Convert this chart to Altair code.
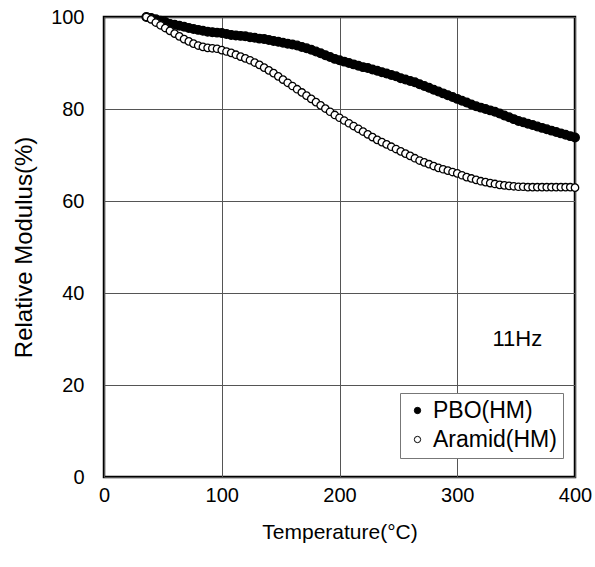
import altair as alt
import pandas as pd

temps = [36, 40, 44, 48, 52, 56, 60, 64, 68, 72,
         76, 80, 84, 88, 92, 96, 100, 104, 108, 112,
         116, 120, 124, 128, 132, 136, 140, 144, 148, 152,
         156, 160, 164, 168, 172, 176, 180, 184, 188, 192,
         196, 200, 204, 208, 212, 216, 220, 224, 228, 232,
         236, 240, 244, 248, 252, 256, 260, 264, 268, 272,
         276, 280, 284, 288, 292, 296, 300, 304, 308, 312,
         316, 320, 324, 328, 332, 336, 340, 344, 348, 352,
         356, 360, 364, 368, 372, 376, 380, 384, 388, 392,
         396, 400]

pbo = [100.0, 99.8, 99.5, 99.2, 98.9, 98.5, 98.3, 98.1, 97.9, 97.6,
       97.4, 97.2, 97.0, 96.8, 96.7, 96.6, 96.5, 96.3, 96.1, 96.0,
       95.9, 95.8, 95.6, 95.5, 95.3, 95.2, 95.0, 94.8, 94.6, 94.4,
       94.2, 94.0, 93.8, 93.5, 93.2, 92.9, 92.5, 92.1, 91.7, 91.3,
       90.9, 90.6, 90.3, 90.0, 89.7, 89.4, 89.1, 88.9, 88.6, 88.3,
       88.0, 87.7, 87.4, 87.1, 86.7, 86.4, 86.1, 85.8, 85.4, 85.0,
       84.6, 84.2, 83.8, 83.4, 83.0, 82.6, 82.2, 81.8, 81.4, 81.0,
       80.6, 80.3, 80.0, 79.7, 79.4, 79.0, 78.6, 78.2, 77.8, 77.4,
       77.1, 76.8, 76.5, 76.2, 75.9, 75.6, 75.3, 75.0, 74.7, 74.4,
       74.1, 73.8]

aramid = [100.0, 99.5, 98.8, 98.2, 97.6, 97.0, 96.4, 95.8, 95.2, 94.7,
          94.2, 93.8, 93.5, 93.3, 93.2, 93.1, 92.8, 92.5, 92.2, 91.8,
          91.4, 91.0, 90.6, 90.1, 89.6, 89.0, 88.4, 87.8, 87.1, 86.4,
          85.7, 85.0, 84.3, 83.6, 82.9, 82.2, 81.5, 80.8, 80.1, 79.4,
          78.7, 78.1, 77.5, 76.9, 76.3, 75.7, 75.1, 74.5, 73.9, 73.3,
          72.8, 72.3, 71.8, 71.3, 70.8, 70.3, 69.8, 69.3, 68.8, 68.4,
          68.0, 67.6, 67.2, 66.9, 66.6, 66.3, 66.0, 65.6, 65.2, 64.9,
          64.6, 64.3, 64.1, 63.9, 63.7, 63.5, 63.4, 63.3, 63.2, 63.1,
          63.1, 63.0, 63.0, 63.0, 63.0, 63.0, 63.0, 63.0, 63.0, 63.0,
          63.0, 62.9]

series_names = ["PBO(HM)", "Aramid(HM)"]
x_ticks = [0, 100, 200, 300, 400]
y_ticks = [0, 20, 40, 60, 80, 100]
note_text = ["11Hz"]
note_x = [351]
note_y = [30]

rows = []
for t, v in zip(temps, pbo):
    rows.append({"T": t, "M": v, "series": series_names[0]})
for t, v in zip(temps, aramid):
    rows.append({"T": t, "M": v, "series": series_names[1]})
df = pd.DataFrame(rows)

notes = pd.DataFrame({"T": note_x, "M": note_y, "label": note_text})

FONT = "Liberation Sans"

x_enc = alt.X("T:Q", scale=alt.Scale(domain=[0, 400], nice=False),
              axis=alt.Axis(values=x_ticks, title="Temperature(°C)", grid=True,
                            ticks=False, domain=False, labelPadding=8, labelFlush=False,
                            titlePadding=16, format="d", titleFontSize=21))
y_enc = alt.Y("M:Q", scale=alt.Scale(domain=[0, 100], nice=False),
              axis=alt.Axis(values=y_ticks, title="Relative Modulus(%)", grid=True,
                            ticks=False, domain=False, labelPadding=20, labelFlush=False,
                            titlePadding=14, format="d", titleFontSize=24))

fill_enc = alt.Fill("series:N",
                    scale=alt.Scale(domain=series_names, range=["black", "white"]),
                    legend=alt.Legend(title=None, orient="none", legendX=296, legendY=376,
                                      symbolType="circle", symbolSize=40,
                                      symbolStrokeColor="black", symbolStrokeWidth=1,
                                      labelFontSize=23, labelFont=FONT, labelColor="black",
                                      strokeColor="#777777", padding=6, rowPadding=5,
                                      fillColor="white", labelOffset=4))

base = alt.Chart(df).encode(x=x_enc, y=y_enc, fill=fill_enc)

pbo_layer = base.transform_filter(alt.datum.series == series_names[0]).mark_point(
    shape="circle", filled=True, size=75, stroke="black", strokeWidth=1.3, opacity=1)
aramid_layer = base.transform_filter(alt.datum.series == series_names[1]).mark_point(
    shape="circle", filled=True, size=55, stroke="black", strokeWidth=1.3, opacity=1)

note = alt.Chart(notes).mark_text(
    fontSize=22, font=FONT, color="black", align="center", baseline="middle"
).encode(x="T:Q", y="M:Q", text="label:N")

chart = alt.layer(pbo_layer, aramid_layer, note).properties(
    width=471, height=460,
    padding={"left": 104, "top": 17, "right": 20, "bottom": 90},
    autosize=alt.AutoSizeParams(type="none"),
    background="white",
).configure_view(
    stroke="black", strokeWidth=2.5
).configure_axis(
    labelFont=FONT, titleFont=FONT, labelFontSize=20,
    labelColor="black", titleColor="black", titleFontWeight="normal",
    gridColor="#555555", gridWidth=1, gridOpacity=1,
)

chart.save("out.html", embed_options={"renderer": "svg", "actions": False})
